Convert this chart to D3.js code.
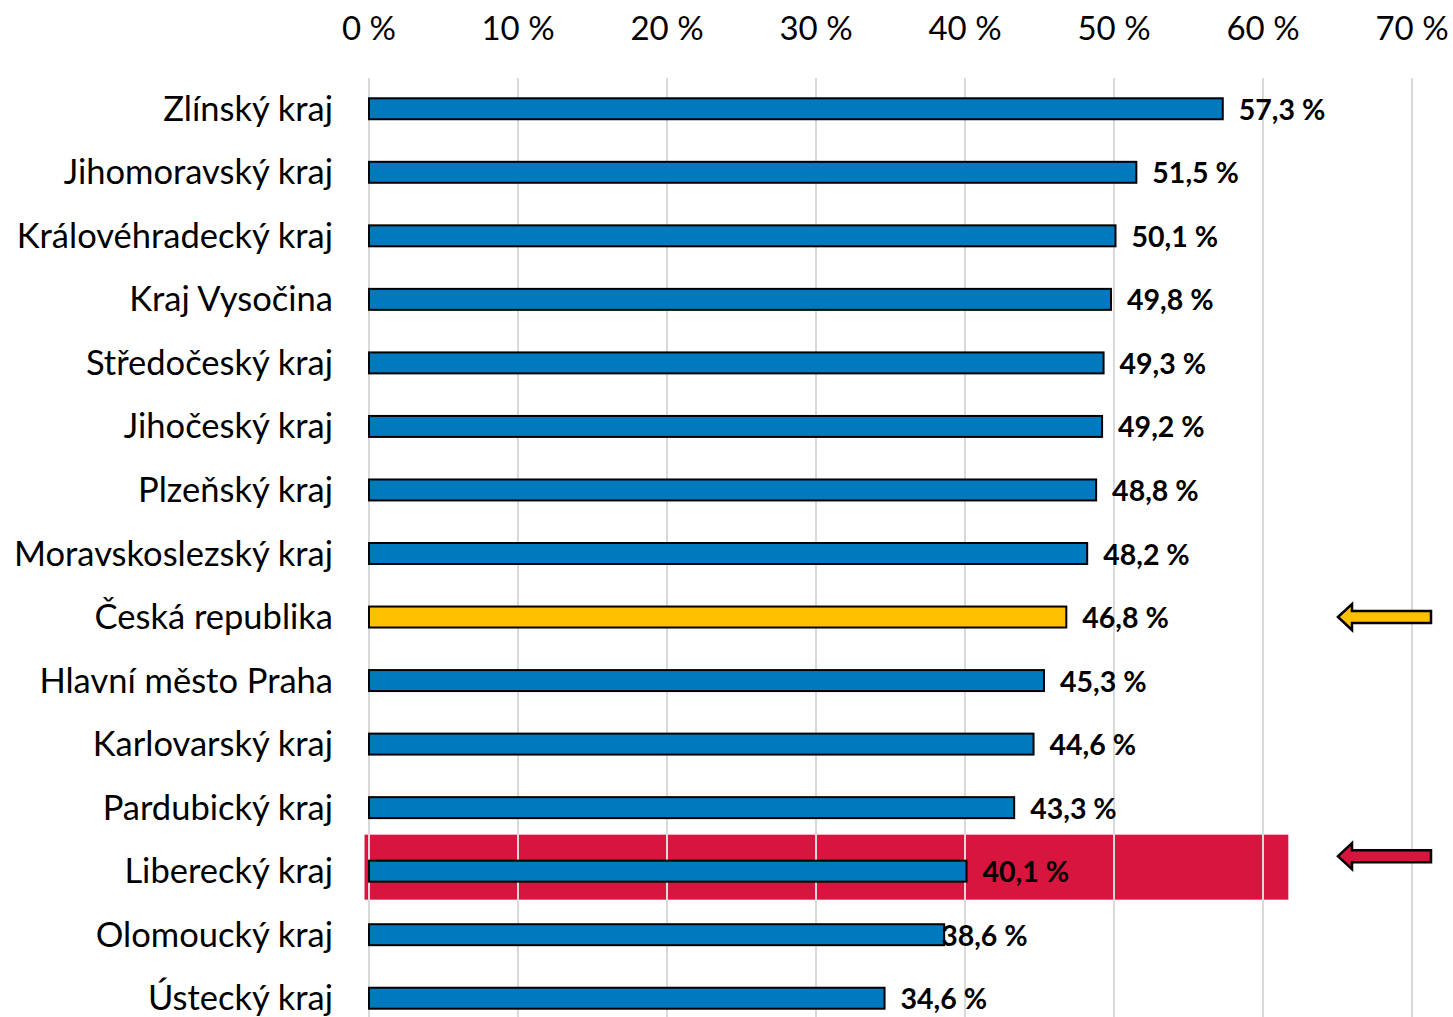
<!DOCTYPE html>
<html>
<head>
<meta charset="utf-8" />
<title>Kraje</title>
<style>
body { margin: 0; background: #fff; font-family: Lato, "Open Sans", sans-serif; }
</style>
<script src="https://d3js.org/d3.v7.min.js"></script>
</head>
<body>
<script>
var regions = ["Zlínský kraj", "Jihomoravský kraj", "Královéhradecký kraj", "Kraj Vysočina",
  "Středočeský kraj", "Jihočeský kraj", "Plzeňský kraj", "Moravskoslezský kraj",
  "Česká republika", "Hlavní město Praha", "Karlovarský kraj", "Pardubický kraj",
  "Liberecký kraj", "Olomoucký kraj", "Ústecký kraj"];
var values = [57.3, 51.5, 50.1, 49.8, 49.3, 49.2, 48.8, 48.2, 46.8, 45.3, 44.6, 43.3, 40.1, 38.6, 34.6];
var ticks = [0, 10, 20, 30, 40, 50, 60, 70];
var national = "Česká republika";
var focus = "Liberecký kraj";

var width = 1453, height = 1017;
var svg = d3.select("body").append("svg")
  .attr("width", width).attr("height", height);

var x = d3.scaleLinear().domain([0, 70]).range([369, 1412]);
var y = d3.scaleBand().domain(regions).range([77, 1030]).paddingInner(0.67).paddingOuter(0.335);

var fmt = function (v) { return v.toFixed(1).replace(".", ",") + " %"; };

// highlight band behind Liberecký kraj
svg.append("rect")
  .attr("x", x(-0.3)).attr("width", x(61.7) - x(-0.3))
  .attr("y", y(focus) + y.bandwidth() / 2 - 36.5).attr("height", 65)
  .attr("fill", "#d7153f");

// gridlines
svg.append("g").selectAll("line")
  .data(ticks).enter().append("line")
  .attr("x1", function (d) { return x(d); }).attr("x2", function (d) { return x(d); })
  .attr("y1", 78).attr("y2", height)
  .attr("stroke", "#d9d9d9").attr("stroke-width", 2);

// tick labels on top
svg.append("g").selectAll("text")
  .data(ticks).enter().append("text")
  .attr("x", function (d) { return x(d); }).attr("y", 40)
  .attr("text-anchor", "middle")
  .style("font-size", "33px").attr("fill", "#000")
  .text(function (d) { return d + " %"; });

// bars
svg.append("g").selectAll("rect")
  .data(regions).enter().append("rect")
  .attr("x", x(0)).attr("y", function (d) { return y(d); })
  .attr("width", function (d, i) { return x(values[i]) - x(0); })
  .attr("height", y.bandwidth())
  .attr("fill", function (d) { return d === national ? "#ffc000" : "#0179bf"; })
  .attr("stroke", "#000").attr("stroke-width", 2);

// category labels
svg.append("g").selectAll("text")
  .data(regions).enter().append("text")
  .attr("x", 333).attr("y", function (d) { return y(d) + y.bandwidth() / 2 + 12; })
  .attr("text-anchor", "end")
  .style("font-size", "34.5px").attr("fill", "#000")
  .text(function (d) { return d; });

// value labels
svg.append("g").selectAll("text")
  .data(regions).enter().append("text")
  .attr("x", function (d, i) { return x(values[i]) + (d === "Olomoucký kraj" ? -3 : 16); })
  .attr("y", function (d) { return y(d) + y.bandwidth() / 2 + 11; })
  .style("font-size", "28.5px").style("font-weight", "bold").attr("fill", "#000")
  .text(function (d, i) { return fmt(values[i]); });

// arrows pointing at the national average and the focus region
function arrow(cy, fill) {
  var tip = 1338, neck = 1352, end = 1431;
  var pts = [[tip, cy], [neck, cy - 13], [neck, cy - 6], [end, cy - 6],
    [end, cy + 6], [neck, cy + 6], [neck, cy + 13]];
  svg.append("path")
    .attr("d", d3.line()(pts) + "Z")
    .attr("fill", fill).attr("stroke", "#000").attr("stroke-width", 2.5)
    .attr("stroke-linejoin", "miter");
}
arrow(y(national) + y.bandwidth() / 2, "#ffc000");
arrow(y(focus) + y.bandwidth() / 2 - 15, "#d7153f");
</script>
</body>
</html>
